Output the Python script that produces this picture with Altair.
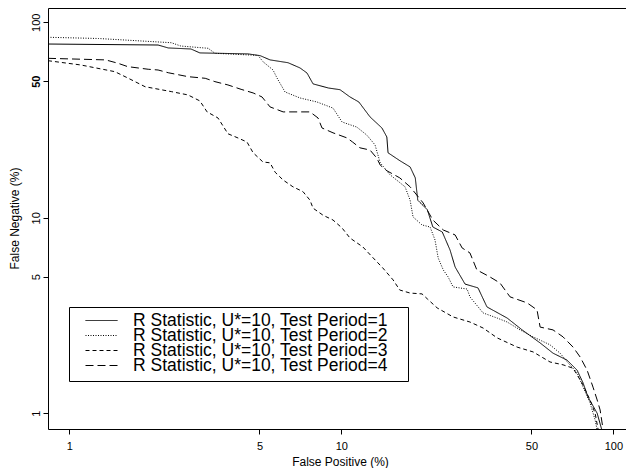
import altair as alt
import pandas as pd

names = [
    "R Statistic, U*=10, Test Period=1",
    "R Statistic, U*=10, Test Period=2",
    "R Statistic, U*=10, Test Period=3",
    "R Statistic, U*=10, Test Period=4",
]

fp1 = [0.835, 2.12, 2.31, 2.80, 3.02, 4.54, 5.03, 5.47, 6.37, 7.05, 7.48, 7.87, 8.97, 9.89,
       10.76, 11.6, 12.75, 14.1, 14.7, 14.85, 16.4, 17.9, 18.7, 19.1, 20.7, 21.7, 23.5, 25.1,
       26.2, 28.5, 31.8, 34.3, 40.7, 46.2, 53.8, 60.0, 67.6, 73.6, 77.4, 80.7, 87.2, 91.2]
fn1 = [77.4, 76.5, 73.9, 73.0, 69.7, 68.9, 67.5, 64.2, 62.1, 58.4, 55.0, 48.4, 46.1, 45.2,
       41.5, 39.1, 32.8, 28.8, 25.9, 21.5, 19.6, 18.2, 16.0, 12.3, 11.0, 8.97, 8.46, 6.84,
       5.60, 4.58, 4.38, 3.50, 3.07, 2.67, 2.29, 2.03, 1.87, 1.66, 1.43, 1.21, 1.00, 0.80]

fp2 = [0.835, 1.28, 2.37, 2.57, 3.24, 3.43, 4.94, 5.15, 5.61, 5.80, 6.21, 7.05, 8.14, 9.32,
       10.06, 11.4, 12.4, 13.3, 13.9, 15.1, 17.15, 17.9, 18.35, 19.8, 21.2, 22.1, 22.7, 23.7,
       24.7, 25.75, 29.0, 29.7, 33.2, 37.4, 40.7, 45.4, 50.7, 58.5, 63.7, 68.2, 73.6, 77.4,
       82.1, 85.7, 87.5]
fn2 = [83.8, 82.6, 78.6, 75.6, 73.6, 69.4, 67.7, 62.9, 57.0, 51.9, 44.0, 41.0, 39.1, 36.4,
       30.9, 29.1, 26.5, 23.6, 19.1, 16.6, 14.4, 12.3, 10.1, 9.19, 8.97, 7.70, 6.23, 5.41,
       4.98, 4.43, 4.32, 3.94, 3.26, 3.07, 2.93, 2.67, 2.46, 2.24, 2.03, 1.81, 1.61, 1.36,
       1.13, 0.924, 0.80]

fp3 = [0.835, 1.10, 1.47, 1.64, 1.90, 2.37, 2.73, 3.02, 3.21, 3.52, 3.83, 4.17, 4.50, 4.74,
       5.15, 5.47, 5.71, 6.11, 6.64, 7.23, 7.67, 7.87, 8.57, 9.32, 10.06, 10.76, 12.0, 13.1,
       14.2, 15.5, 16.4, 17.9, 19.8, 20.7, 22.5, 25.75, 29.7, 33.2, 37.4, 44.3, 50.7, 58.5,
       65.3, 71.1, 76.7, 82.1, 85.7, 88.3]
fn3 = [63.6, 60.5, 55.9, 51.9, 46.8, 44.2, 42.5, 39.6, 34.8, 32.4, 26.9, 25.6, 24.4, 21.5,
       19.3, 19.1, 17.1, 15.6, 14.4, 13.6, 12.3, 11.2, 10.3, 9.74, 8.87, 7.88, 7.09, 6.23,
       5.54, 4.81, 4.27, 4.12, 4.08, 3.85, 3.46, 3.11, 2.93, 2.73, 2.43, 2.18, 2.06, 1.83,
       1.77, 1.70, 1.43, 1.17, 1.00, 0.80]

fp4 = [0.835, 1.36, 1.51, 1.64, 1.95, 2.12, 2.31, 2.73, 3.16, 3.43, 3.83, 4.28, 4.74, 5.11,
       5.47, 6.11, 7.67, 8.21, 8.49, 9.32, 10.5, 11.0, 11.7, 12.75, 13.5, 13.9, 14.7, 16.4,
       17.9, 20.0, 21.7, 23.7, 26.2, 27.8, 29.7, 31.5, 35.2, 38.3, 41.7, 48.2, 52.4, 53.8,
       60.0, 65.3, 71.1, 75.5, 80.1, 84.2, 87.2, 89.4, 92.0]
fn4 = [65.4, 64.2, 61.7, 59.3, 57.5, 57.0, 55.2, 52.7, 51.7, 49.7, 47.8, 45.4, 43.5, 41.5,
       36.9, 34.8, 34.8, 32.4, 28.8, 27.2, 25.6, 24.4, 22.8, 22.2, 20.2, 18.6, 17.4, 16.0,
       14.4, 11.9, 9.74, 8.66, 8.17, 7.01, 6.61, 5.41, 4.98, 4.64, 3.94, 3.67, 3.38, 2.76,
       2.67, 2.46, 2.18, 1.94, 1.66, 1.36, 1.17, 1.04, 0.80]

x_ticks = [1, 5, 10, 50, 100]
y_ticks = [1, 5, 10, 50, 100]
dashes = [[1, 0], [1, 1.5], [4, 3], [8, 4]]

rows = []
for name, fps, fns in zip(names, [fp1, fp2, fp3, fp4], [fn1, fn2, fn3, fn4]):
    for i, (a, b) in enumerate(zip(fps, fns)):
        rows.append({"series": name, "fp": a, "fn": b, "order": i})
df = pd.DataFrame(rows)

FONT = "Liberation Sans"

chart = alt.Chart(df).mark_line(clip=True, strokeWidth=1, color="black").encode(
    x=alt.X(
        "fp:Q",
        scale=alt.Scale(type="log", domain=[0.835, 113.2], nice=False, zero=False),
        axis=alt.Axis(
            values=x_ticks, title="False Positive (%)", format="~g",
            labelPadding=6, titleX=292, titleY=36.5, titleBaseline="alphabetic",
            titleAlign="center",
        ),
    ),
    y=alt.Y(
        "fn:Q",
        scale=alt.Scale(type="log", domain=[0.831, 118.3], nice=False, zero=False),
        axis=alt.Axis(
            values=y_ticks, title="False Negative (%)", format="~g",
            labelAngle=270, labelAlign="center", labelBaseline="alphabetic",
            labelPadding=3.5,
            labelFontWeight={"condition": {"test": "datum.value == 50", "value": "bold"},
                             "value": "normal"},
            titleAngle=270, titleX=-29.5, titleY=210, titleAlign="center",
            titleBaseline="alphabetic",
        ),
    ),
    strokeDash=alt.StrokeDash(
        "series:N",
        scale=alt.Scale(domain=names, range=dashes),
        legend=alt.Legend(
            orient="none", legendX=21, legendY=299, title=None,
            strokeColor="black", padding=7, symbolType="stroke", symbolSize=1024,
            symbolStrokeWidth=1, symbolStrokeColor="black",
            labelFont=FONT, labelFontSize=17.5, labelColor="black", labelLimit=500,
            rowPadding=-3.5, clipHeight=13, symbolOffset=9, labelOffset=15,
            labelExpr="datum.label + '\u2800'",
        ),
    ),
    order="order:Q",
).properties(
    width=580,
    height=421,
    autosize=alt.AutoSizeParams(type="none"),
    padding={"left": 40, "top": 0, "right": -2, "bottom": 39},
    background="white",
).configure_view(
    stroke="black", strokeWidth=1
).configure_axis(
    grid=False, domain=False, tickColor="black", tickSize=5, tickWidth=1,
    labelFont=FONT, labelFontSize=11, labelColor="black",
    titleFont=FONT, titleFontSize=12, titleFontWeight="normal", titleColor="black",
)

chart.save("out.html", embed_options={"renderer": "svg", "actions": False})
